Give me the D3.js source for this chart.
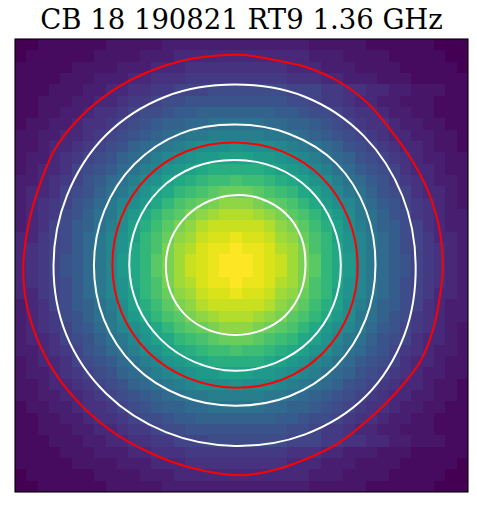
<!DOCTYPE html>
<html>
<head>
<meta charset="utf-8">
<script src="https://d3js.org/d3.v7.min.js"></script>
<style>
  body { margin: 0; background: #fff; }
  svg { display: block; }
</style>
</head>
<body>
<svg width="477" height="507"></svg>
<script>
// title
var title = "CB 18 190821 RT9 1.36 GHz";

// beam image, 40 x 40 pixels, one char per pixel, level 0..35 (base 36)
var imageRows = [
  "0011111122222333333333333322222111111000",
  "0111111222233344444444444433322221111100",
  "1111122223334445555555554443332222111110",
  "1111222333445556666666665554433322211111",
  "1112223344556677788888887776655443322211",
  "1122233445667889999999998876654433222111",
  "11223345567889aabbbbbbbaa988765543322111",
  "122334556789abbccdddddccbba9876554332211",
  "22334456789abcdeefffffeedcba987654433221",
  "2234456789bcdefghhhihhhgfedcb98765443221",
  "233456789bcdfghijjkkkjjihgfdcb9876543322",
  "23445789acdfgijklmmmmmlkjigfdca987544322",
  "3345679acdfhiklmnoopoonmlkihfdca97654332",
  "3445789bdegiklnopqrrrqponlkigedb98754432",
  "345679aceghjlnpqrstttsrqpnljhgeca9765432",
  "345689bdehjlnpqstuvvvutsqpnljhedb9865433",
  "34578abdfhkmoqstvwwwwwvtsqomkhfdba875433",
  "44678acegiknprtuwxxyxxwutrpnkigeca876443",
  "45678acegilnpsuvxyyzyyxvuspnligeca876543",
  "45679acegjlnqsuwxyzzzyxwusqnljgeca976543",
  "45679acegjlnqsuwxyzzzyxwusqnljgeca976543",
  "45678acegilnpsuvxyyzyyxvuspnligeca876543",
  "44678acegiknprtuwxxyxxwutrpnkigeca876443",
  "34578abdfhkmoqstvwwwwwvtsqomkhfdba875433",
  "345689bdehjlnpqstuvvvutsqpnljhedb9865433",
  "345679aceghjlnpqrstttsrqpnljhgeca9765432",
  "3445789bdegiklnopqrrrqponlkigedb98754432",
  "3345679acdfhiklmnoopoonmlkihfdca97654332",
  "23445789acdfgijklmmmmmlkjigfdca987544322",
  "233456789bcdfghijjkkkjjihgfdcb9876543322",
  "2234456789bcdefghhhihhhgfedcb98765443221",
  "22334456789abcdeefffffeedcba987654433221",
  "122334556789abbccdddddccbba9876554332211",
  "11223345567889aabbbbbbbaa988765543322111",
  "1122233445667889999999998876654433222111",
  "1112223344556677788888887776655443322211",
  "1111222333445556666666665554433322211111",
  "1111122223334445555555554443332222111110",
  "0111111222233344444444444433322221111100",
  "0011111122222333333333333322222111111000"
];
var levelMax = 35;

// outer red contour, image pixel units (x right, y down)
var redOuter = [
  [0.73,20.31],[1.17,16.49],[2.06,13.25],[3.53,9.71],[5.89,6.77],[8.83,4.42],
  [11.74,2.91],[14.72,1.92],[17.66,1.47],[20.31,1.41],[22.78,1.83],[25.76,2.50],
  [28.70,3.82],[31.06,5.59],[33.11,7.95],[35.17,10.89],[36.64,13.84],[37.53,17.07],
  [37.77,20.31],[37.53,22.63],[36.94,25.58],[35.76,28.52],[33.70,31.17],[31.64,33.23],
  [28.70,35.59],[25.76,37.06],[22.81,38.08],[19.87,38.53],[15.30,37.79],[11.77,36.47],
  [8.24,34.41],[5.30,31.76],[2.94,28.52],[1.17,24.11]
];

// inner contours as radius (pixels) at fixed angles round the beam centre
var beamCentre = [19.43, 19.96];
var contourAngles = [0, 22.5, 45, 67.5, 90, 112.5, 135, 157.5, 180, 202.5, 225, 247.5, 270, 292.5, 315, 337.5];
var white1Radii = [15.95, 16.18, 16.36, 16.18, 15.97, 15.97, 16.07, 16.12, 16.03, 16.06, 16.17, 16.09, 15.94, 16.09, 16.10, 15.99];
var white2Radii = [12.40, 12.49, 12.60, 12.54, 12.42, 12.49, 12.58, 12.54, 12.46, 12.50, 12.58, 12.56, 12.40, 12.53, 12.67, 12.53];
var redInnerRadii = [10.83, 10.91, 10.98, 10.94, 10.83, 10.81, 10.86, 10.86, 10.83, 10.89, 10.96, 10.92, 10.83, 10.86, 10.89, 10.83];
var white3Radii = [9.34, 9.39, 9.40, 9.35, 9.34, 9.28, 9.28, 9.32, 9.34, 9.39, 9.42, 9.37, 9.28, 9.34, 9.37, 9.35];
var white4Radii = [6.22, 6.27, 6.30, 6.22, 6.17, 6.19, 6.22, 6.17, 6.11, 6.10, 6.08, 6.10, 6.17, 6.29, 6.38, 6.34];

var nPix = 40;
var margin = { top: 39, left: 15 },
  size = 453;

var svg = d3.select("svg");

var x = d3.scaleLinear().domain([0, nPix]).range([margin.left, margin.left + size]);
var y = d3.scaleLinear().domain([0, nPix]).range([margin.top, margin.top + size]);
var color = d3.scaleSequential(d3.interpolateViridis).domain([0, levelMax]);

// image cells
var cells = [];
imageRows.forEach(function (row, r) {
  row.split("").forEach(function (ch, c) {
    cells.push({ r: r, c: c, v: parseInt(ch, 36) });
  });
});

svg.append("clipPath").attr("id", "plotclip")
  .append("rect")
  .attr("x", x(0)).attr("y", y(0))
  .attr("width", x(nPix) - x(0)).attr("height", y(nPix) - y(0));

var plot = svg.append("g").attr("clip-path", "url(#plotclip)");

plot.selectAll("rect.cell")
  .data(cells)
  .enter().append("rect")
  .attr("class", "cell")
  .attr("shape-rendering", "crispEdges")
  .attr("x", d => Math.round(x(d.c)))
  .attr("y", d => Math.round(y(d.r)))
  .attr("width", d => Math.round(x(d.c + 1)) - Math.round(x(d.c)))
  .attr("height", d => Math.round(y(d.r + 1)) - Math.round(y(d.r)))
  .attr("fill", d => color(d.v));

// contours
function ring(radii) {
  return contourAngles.map(function (a, i) {
    var t = a * Math.PI / 180;
    return [beamCentre[0] + radii[i] * Math.cos(t), beamCentre[1] + radii[i] * Math.sin(t)];
  });
}

var line = d3.line()
  .x(d => x(d[0]))
  .y(d => y(d[1]))
  .curve(d3.curveCatmullRomClosed.alpha(0.5));

var contours = [
  { pts: redOuter, col: "red" },
  { pts: ring(white1Radii), col: "white" },
  { pts: ring(white2Radii), col: "white" },
  { pts: ring(redInnerRadii), col: "red" },
  { pts: ring(white3Radii), col: "white" },
  { pts: ring(white4Radii), col: "white" }
];

plot.selectAll("path.contour")
  .data(contours)
  .enter().append("path")
  .attr("class", "contour")
  .attr("d", d => line(d.pts))
  .attr("fill", "none")
  .attr("stroke", d => d.col)
  .attr("stroke-width", 2);

// frame
svg.append("rect")
  .attr("x", x(0)).attr("y", y(0))
  .attr("width", x(nPix) - x(0)).attr("height", y(nPix) - y(0))
  .attr("fill", "none")
  .attr("stroke", "black")
  .attr("stroke-width", 1.1);

// title
svg.append("text")
  .attr("x", (x(0) + x(nPix)) / 2)
  .attr("y", 29)
  .attr("text-anchor", "middle")
  .style("font-family", "'DejaVu Serif', serif")
  .style("font-size", "27.5px")
  .attr("fill", "black")
  .text(title);
</script>
</body>
</html>
